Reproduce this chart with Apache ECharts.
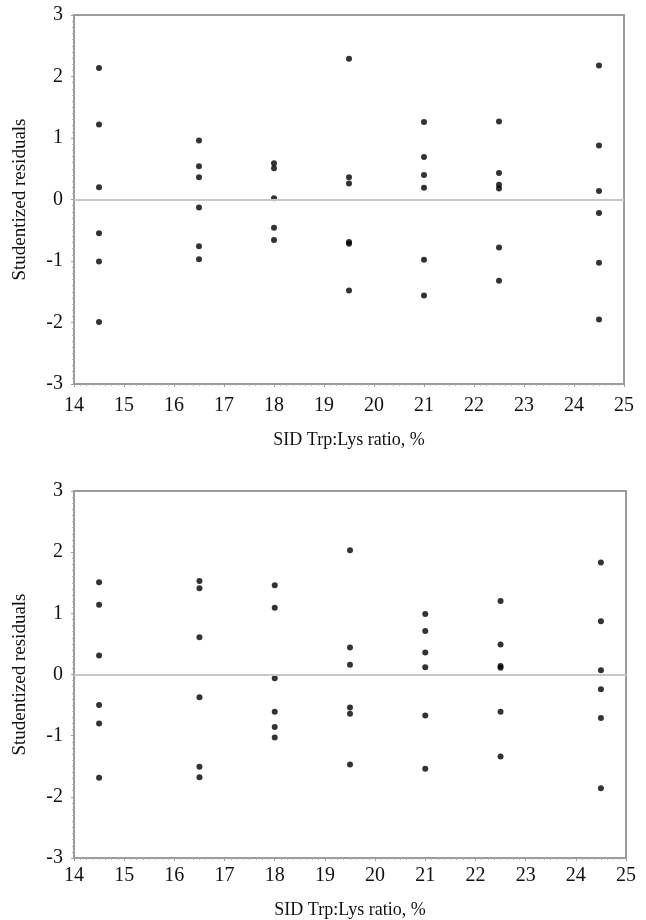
<!DOCTYPE html>
<html>
<head>
    <meta charset="utf-8">
    <style>
        html, body { margin: 0; padding: 0; background: #fff; }
        #chart { width: 646px; height: 920px; }
    </style>
    <script src="https://cdn.jsdelivr.net/npm/echarts@6/dist/echarts.min.js"></script>
</head>
<body>
    <div id="chart"></div>
    <script type="text/javascript">
        // SID Trp:Lys ratio levels (x positions of each group)
        var ratios = [14.5, 16.5, 18, 19.5, 21, 22.5, 24.5];

        // top panel residuals, one list per ratio level
        var topResiduals = [
            [2.14, 1.22, 0.20, -0.55, -1.01, -1.99],
            [0.96, 0.54, 0.36, -0.13, -0.76, -0.97],
            [0.59, 0.51, 0.02, -0.46, -0.66],
            [2.29, 0.36, 0.26, -0.69, -0.72, -1.48],
            [1.26, 0.69, 0.40, 0.19, -0.98, -1.56],
            [1.27, 0.43, 0.24, 0.18, -0.78, -1.32],
            [2.18, 0.88, 0.14, -0.22, -1.03, -1.95]
        ];

        // bottom panel residuals
        var bottomResiduals = [
            [1.51, 1.14, 0.31, -0.50, -0.80, -1.69],
            [1.53, 1.41, 0.61, -0.37, -1.51, -1.68],
            [1.46, 1.09, -0.06, -0.61, -0.86, -1.03],
            [2.03, 0.44, 0.16, -0.54, -0.64, -1.47],
            [0.99, 0.71, 0.36, 0.12, -0.67, -1.54],
            [1.20, 0.49, 0.14, 0.11, -0.61, -1.34],
            [1.83, 0.87, 0.07, -0.24, -0.71, -1.86]
        ];

        var yTicks = [-3, -2, -1, 0, 1, 2, 3];
        var xTicks = [14, 15, 16, 17, 18, 19, 20, 21, 22, 23, 24, 25];
        var xTitle = 'SID Trp:Lys ratio, %';
        var yTitle = 'Studentized residuals';

        function toPoints(groups) {
            var pts = [];
            groups.forEach(function (vals, i) {
                vals.forEach(function (v) { pts.push([ratios[i], v]); });
            });
            return pts;
        }

        var font = 'Liberation Serif';
        var axisGray = '#9c9c9c';

        function makeX(idx, gap, labelMargin) {
            return {
                gridIndex: idx, type: 'value',
                min: xTicks[0], max: xTicks[xTicks.length - 1], interval: 1,
                name: xTitle, nameLocation: 'middle', nameGap: gap,
                nameTextStyle: { fontFamily: font, fontSize: 18, color: '#111' },
                axisLine: { show: true, onZero: false, lineStyle: { color: axisGray, width: 2 } },
                axisTick: { show: true, length: 3, lineStyle: { color: axisGray } },
                minorTick: { show: true, splitNumber: 8, length: 2, lineStyle: { color: '#b0b0b0' } },
                axisLabel: { fontFamily: font, fontSize: 20, color: '#111', margin: labelMargin },
                splitLine: { show: false }
            };
        }

        function makeY(idx) {
            return {
                gridIndex: idx, type: 'value',
                min: yTicks[0], max: yTicks[yTicks.length - 1], interval: 1,
                name: yTitle, nameLocation: 'middle', nameGap: 44,
                nameTextStyle: { fontFamily: font, fontSize: 19, color: '#111' },
                axisLine: { show: true, lineStyle: { color: axisGray, width: 2 } },
                axisTick: { show: true, length: 3, lineStyle: { color: axisGray } },
                minorTick: { show: true, splitNumber: 10, length: 2, lineStyle: { color: '#b0b0b0' } },
                axisLabel: { fontFamily: font, fontSize: 20, color: '#111', margin: 11 },
                splitLine: { show: false }
            };
        }

        function makeSeries(idx, data) {
            return {
                type: 'scatter', xAxisIndex: idx, yAxisIndex: idx,
                data: data, symbolSize: 6,
                itemStyle: { color: '#000' },
                markLine: {
                    silent: true, symbol: 'none', label: { show: false },
                    lineStyle: { color: '#c8c8c8', width: 2, type: 'solid' },
                    data: [{ yAxis: 0 }]
                },
                z: 3
            };
        }

        var myChart = echarts.init(document.getElementById('chart'));
        myChart.setOption({
            animation: false,
            backgroundColor: '#fff',
            grid: [
                { left: 74, right: 22, top: 15, height: 369, show: true, borderColor: axisGray, borderWidth: 2 },
                { left: 74, right: 20, top: 491, height: 367, show: true, borderColor: axisGray, borderWidth: 2 }
            ],
            xAxis: [makeX(0, 47, 12), makeX(1, 43, 8)],
            yAxis: [makeY(0), makeY(1)],
            series: [
                makeSeries(0, toPoints(topResiduals)),
                makeSeries(1, toPoints(bottomResiduals))
            ]
        });
    </script>
</body>
</html>
